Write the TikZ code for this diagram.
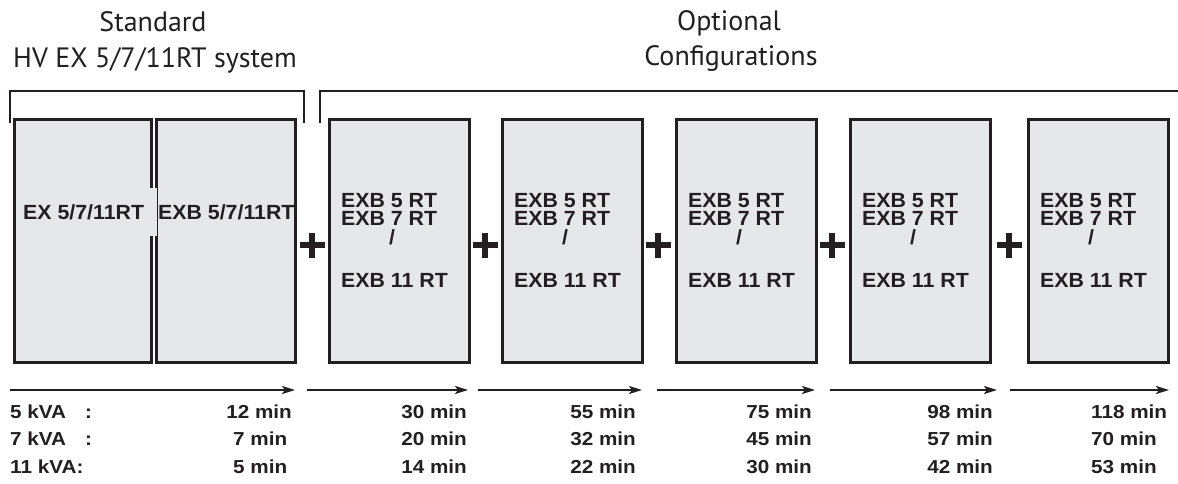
\documentclass[tikz,border=0pt]{standalone}
\usepackage{fontspec}
\usetikzlibrary{arrows.meta}
\newfontfamily\titlefont{PT Sans}
\newfontfamily\labfont[FakeStretch=1.1]{Liberation Sans}
\newfontfamily\boxfont[FakeStretch=1.04]{Liberation Sans}
\definecolor{ink}{HTML}{231F20}
\definecolor{boxgray}{HTML}{E6E7E8}
\begin{document}
\begin{tikzpicture}[x=1pt,y=-1pt,
  unit/.style={draw=ink, line width=2.6pt, fill=boxgray, minimum height=243pt, anchor=north west, inner sep=0pt},
  title/.style={font=\titlefont\fontsize{28}{28}\selectfont, text=ink, inner sep=0pt, anchor=base},
  boxtxt/.style={font=\boxfont\bfseries\fontsize{20.5}{20.5}\selectfont, text=ink, inner sep=0pt, anchor=base west, text height=14.5pt, text depth=0pt},
  rowtxt/.style={font=\labfont\bfseries\fontsize{18.8}{18.8}\selectfont, text=ink, inner sep=0pt},
  brk/.style={draw=ink, line width=2.2pt},
  plussign/.style={draw=ink, line width=6.5pt},
  arr/.style={draw=ink, line width=2pt, -{Stealth[length=13pt,width=8pt,inset=3pt]}}]
\useasboundingbox (0,0) rectangle (1178,484);
\fill[white] (0,0) rectangle (1178,484);

% titles
\node[title] (t1) at (153,32) {Standard};
\node[title] (t2) at (155,68) {HV EX 5/7/11RT system};
\node[title] (t3) at (729,31) {Optional};
\node[title] (t4) at (731,66) {Configurations};

% brackets
\draw[brk] (10,123) -- (10,91) -- (304,91) -- (304,123);
\draw[brk] (320,123) -- (320,91) -- (1180,91);

% standard system boxes
\node[unit, minimum width=137pt] (ex) at (13,118) {};
\node[unit, minimum width=139pt] (exb) at (155,118) {};
\fill[boxgray] (148.4,188) rectangle (156.6,236);
\node[boxtxt] (exl) at (23,219) {EX 5/7/11RT};
\node[boxtxt] (exbl) at (158,219) {EXB 5/7/11RT};

% optional boxes
\foreach \x [count=\i] in {328,501,675,849,1027} {
  \node[unit, minimum width=140pt] (opt\i) at (\x,118) {};
  \node[boxtxt] (opt\i a) at (\x+13,207) {EXB 5 RT};
  \node[boxtxt] (opt\i b) at (\x+13,225) {EXB 7 RT};
  \node[boxtxt] (opt\i c) at (\x+61,244) {/};
  \node[boxtxt] (opt\i d) at (\x+13,287) {EXB 11 RT};
}

% plus signs
\foreach \p in {312,485,658,832,1009} {
  \draw[plussign] (\p-12.5,245) -- (\p+12.5,245) (\p,232.5) -- (\p,257.5);
}

% arrows
\foreach \s/\e [count=\i] in {10/295,307/468,478/642,657/815,830/997,1010/1169} {
  \coordinate (as\i) at (\s,390);
  \coordinate (ae\i) at (\e,390);
  \draw[arr] (as\i) -- (ae\i);
}

% row labels
\node[rowtxt, anchor=base west] (k5) at (10,418) {5 kVA};
\node[rowtxt, anchor=base west] (k5c) at (85,418) {:};
\node[rowtxt, anchor=base west] (k7) at (10,445) {7 kVA};
\node[rowtxt, anchor=base west] (k7c) at (85,445) {:};
\node[rowtxt, anchor=base west] (k11) at (10,473) {11 kVA:};

% column 1
\node[rowtxt, anchor=base east] (v11) at (292,418) {12 min};
\node[rowtxt, anchor=base west] (v12) at (233,445) {7 min};
\node[rowtxt, anchor=base west] (v13) at (233,473) {5 min};

% columns 2-5 (right aligned)
\foreach \x/\a/\b/\c [count=\i from 2] in {467/30/20/14,636/55/32/22,812/75/45/30,993/98/57/42} {
  \node[rowtxt, anchor=base east] (v\i1) at (\x,418) {\a\ min};
  \node[rowtxt, anchor=base east] (v\i2) at (\x,445) {\b\ min};
  \node[rowtxt, anchor=base east] (v\i3) at (\x,473) {\c\ min};
}

% column 6
\node[rowtxt, anchor=base west] (v61) at (1091,418) {118 min};
\node[rowtxt, anchor=base west] (v62) at (1091,445) {70 min};
\node[rowtxt, anchor=base west] (v63) at (1091,473) {53 min};
\end{tikzpicture}
\end{document}
